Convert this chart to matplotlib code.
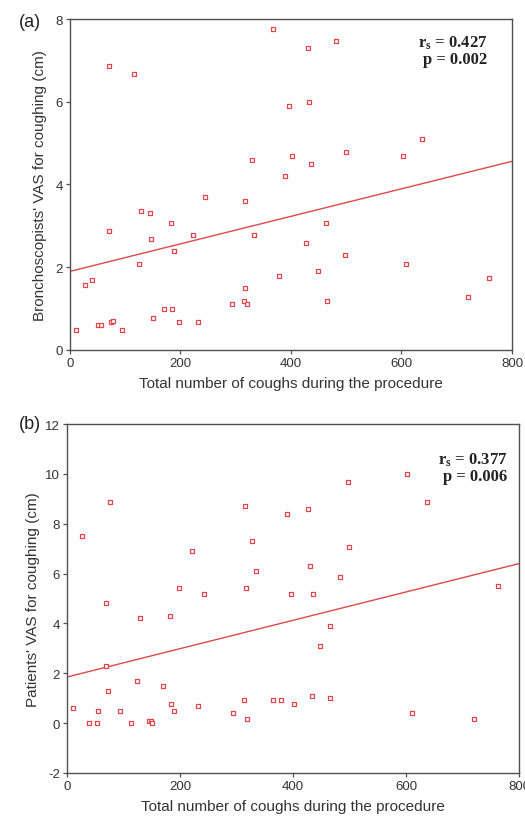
import numpy as np
import matplotlib
matplotlib.use('Agg')
import matplotlib.pyplot as plt

plt.rcParams['font.family'] = ['Liberation Sans', 'DejaVu Sans']
plt.rcParams['axes.unicode_minus'] = False
plt.rcParams['mathtext.fontset'] = 'custom'
plt.rcParams['mathtext.rm'] = 'Liberation Serif:bold'
plt.rcParams['mathtext.it'] = 'Liberation Serif:bold'
plt.rcParams['mathtext.bf'] = 'Liberation Serif:bold'

# (a) coughs vs bronchoscopists' VAS
coughs_a = [367, 430, 481, 71, 115, 397, 433, 638, 329, 401, 436, 500, 602, 390,
            244, 317, 129, 145, 71, 183, 147, 223, 333, 463, 188, 427, 497, 125,
            608, 449, 379, 758, 27, 39, 317, 315, 320, 294, 466, 721, 170, 184,
            150, 198, 232, 74, 77, 51, 57, 11, 95]
vas_a = [7.77, 7.29, 7.48, 6.87, 6.68, 5.89, 6.00, 5.10, 4.59, 4.68, 4.49, 4.78, 4.68, 4.20,
         3.70, 3.59, 3.37, 3.30, 2.87, 3.08, 2.69, 2.79, 2.79, 3.08, 2.40, 2.58, 2.29, 2.08,
         2.08, 1.90, 1.79, 1.75, 1.57, 1.68, 1.50, 1.18, 1.10, 1.10, 1.18, 1.28, 0.99, 0.99,
         0.78, 0.67, 0.67, 0.67, 0.69, 0.60, 0.60, 0.49, 0.49]
fit_a_x = [0, 800]
fit_a_y = [1.90, 4.56]

# (b) coughs vs patients' VAS
coughs_b = [601, 497, 77, 638, 315, 427, 390, 27, 327, 499, 222, 430, 334, 483,
            198, 317, 762, 243, 397, 436, 69, 129, 182, 465, 447, 69, 124, 170,
            73, 10, 55, 93, 184, 189, 231, 313, 294, 319, 365, 379, 401, 434,
            465, 610, 720, 39, 53, 114, 145, 149, 151]
vas_b = [10.0, 9.68, 8.89, 8.89, 8.70, 8.61, 8.38, 7.50, 7.31, 7.08, 6.90, 6.30, 6.11, 5.87,
         5.41, 5.41, 5.51, 5.19, 5.19, 5.19, 4.83, 4.20, 4.30, 3.88, 3.09, 2.31, 1.70, 1.51,
         1.28, 0.59, 0.49, 0.49, 0.77, 0.49, 0.68, 0.91, 0.40, 0.17, 0.91, 0.91, 0.77, 1.10,
         1.00, 0.40, 0.17, 0.0, 0.0, 0.0, 0.08, 0.08, 0.0]
fit_b_x = [0, 800]
fit_b_y = [1.85, 6.40]

xticks = [0, 200, 400, 600, 800]
red = '#e0474c'

fig = plt.figure(figsize=(5.25, 8.2), dpi=100)
ax1 = fig.add_axes([0.1333, 0.5720, 0.8419, 0.4036])
ax2 = fig.add_axes([0.1276, 0.0561, 0.8610, 0.4256])

def style(ax):
    for s in ax.spines.values():
        s.set_color('#505050')
        s.set_linewidth(1.0)
    ax.tick_params(direction='out', length=3, width=0.9, color='#505050',
                   labelsize=9.5, labelcolor='#333333', pad=2)

# panel a
ax1.plot(fit_a_x, fit_a_y, color=red, lw=1.0)
ax1.scatter(coughs_a, vas_a, marker='s', s=12, facecolors='white',
            edgecolors=red, linewidths=0.9, zorder=3)
ax1.set_xlim(0, 800)
ax1.set_ylim(0, 8)
ax1.set_xticks(xticks)
ax1.set_yticks([0, 2, 4, 6, 8])
ax1.set_xlabel('Total number of coughs during the procedure', fontsize=11, color='#333333', labelpad=5)
ax1.set_ylabel("Bronchoscopists' VAS for coughing (cm)", fontsize=11, color='#333333', labelpad=6)
ax1.text(0.945, 0.955, r'$\mathrm{r_s}$ = 0.427' + '\np = 0.002', transform=ax1.transAxes,
         ha='right', va='top', fontsize=12, fontweight='bold', family='Liberation Serif',
         linespacing=1.0, color='#222222')
style(ax1)

# panel b
ax2.plot(fit_b_x, fit_b_y, color=red, lw=1.0)
ax2.scatter(coughs_b, vas_b, marker='s', s=12, facecolors='white',
            edgecolors=red, linewidths=0.9, zorder=3)
ax2.set_xlim(0, 800)
ax2.set_ylim(-2, 12)
ax2.set_xticks(xticks)
ax2.set_yticks([-2, 0, 2, 4, 6, 8, 10, 12])
ax2.set_xlabel('Total number of coughs during the procedure', fontsize=11, color='#333333', labelpad=5)
ax2.set_ylabel("Patients' VAS for coughing (cm)", fontsize=11, color='#333333', labelpad=4)
ax2.text(0.975, 0.925, r'$\mathrm{r_s}$ = 0.377' + '\np = 0.006', transform=ax2.transAxes,
         ha='right', va='top', fontsize=12, fontweight='bold', family='Liberation Serif',
         linespacing=1.0, color='#222222')
style(ax2)

fig.text(0.057, 0.973, '(a)', fontsize=13, ha='center', va='center', color='#222222')
fig.text(0.057, 0.482, '(b)', fontsize=13, ha='center', va='center', color='#222222')

fig.savefig('out.png', dpi=100)
